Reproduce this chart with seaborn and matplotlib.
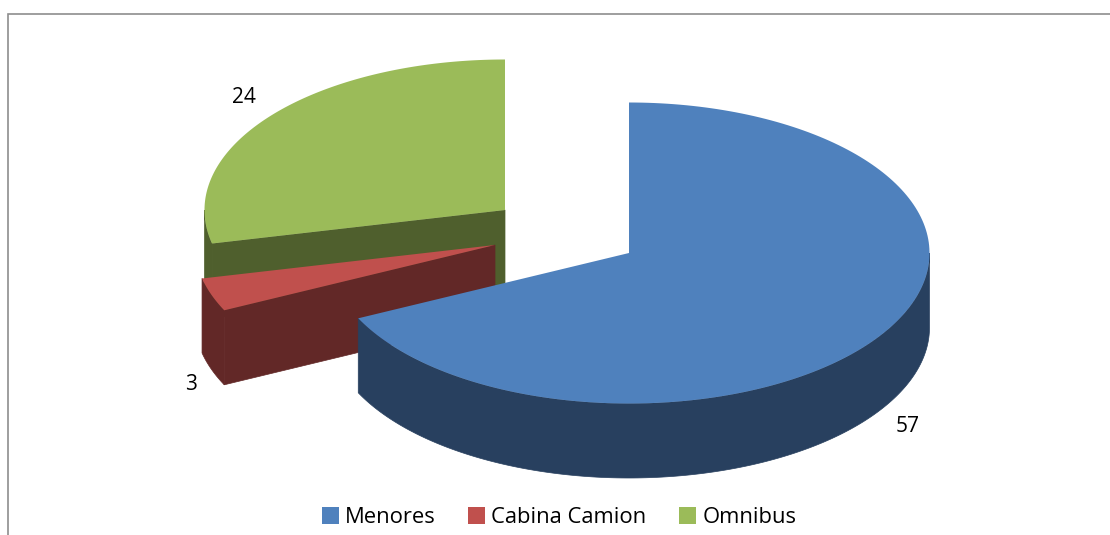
import numpy as np
import matplotlib
matplotlib.use('Agg')
import matplotlib.pyplot as plt
from matplotlib.patches import Polygon, Patch
import seaborn as sns

categories = ['Menores', 'Cabina Camion', 'Omnibus']
values = [57, 3, 24]

top_colors = sns.color_palette(['#4F81BD', '#C0504D', '#9BBB59'])
side_colors = sns.color_palette(['#28405F', '#622827', '#4F5F2D'])

# pie geometry in picture pixels
centers = [(629, 253), (495, 245), (505, 210)]
label_pos = [(908, 426.5), (191, 384.5), (243.5, 97.5)]
RX, RY, DEPTH = 300.5, 150.5, 74.5

sns.set_theme(style='white')
plt.rcParams['font.family'] = ['Open Sans', 'DejaVu Sans']

fig = plt.figure(figsize=(11.1, 5.35), dpi=100)
ax = fig.add_axes([0, 0, 1, 1])
ax.set_xlim(0, 1110)
ax.set_ylim(535, 0)
ax.axis('off')


def rim(cx, cy, a, b):
    # points on the ellipse, angle clockwise from 12 o'clock
    t = np.radians(np.linspace(a, b, 200))
    return np.column_stack([cx + RX * np.sin(t), cy - RY * np.cos(t)])


def draw_slice(i, start, end):
    cx, cy = centers[i]
    down = np.array([0, DEPTH])
    apex = np.array([[cx, cy]])
    outer = rim(cx, cy, start, end)

    # cut face on the start side is visible for the left hand slices
    if 180 < start < 360 and i != 0:
        face = np.vstack([apex, outer[:1], outer[:1] + down, apex + down])
        ax.add_patch(Polygon(face, fc=side_colors[i], ec=side_colors[i], lw=0.5))

    # outer wall, only the part facing the viewer
    a = max(start, 90)
    b = min(end, 270)
    if b > a:
        part = rim(cx, cy, a, b)
        ax.add_patch(Polygon(np.vstack([part, (part + down)[::-1]]), fc=side_colors[i],
                             ec=side_colors[i], lw=0.5))

    ax.add_patch(Polygon(np.vstack([apex, outer]), fc=top_colors[i], lw=0))


angles = np.cumsum([0] + values) / sum(values) * 360
for i in [2, 1, 0]:
    draw_slice(i, angles[i], angles[i + 1])

for v, (x, y) in zip(values, label_pos):
    ax.text(x, y, str(v), fontsize=15, color='black', ha='center', va='center')

# chart area border, cut by the picture edge
ax.plot([8, 8, 1110], [535, 14, 14], color='#8E8E8E', lw=1.2, solid_joinstyle='miter')

handles = [Patch(fc=c, lw=0) for c in top_colors]
leg = ax.legend(handles, categories, ncol=3, loc='center', bbox_to_anchor=(559, 517.5),
                bbox_transform=ax.transData, frameon=False, fontsize=15.8,
                handlelength=0.78, handleheight=0.78, handletextpad=0.27, columnspacing=1.5)
for t in leg.get_texts():
    t.set_color('black')

fig.savefig('out.png', dpi=100)
